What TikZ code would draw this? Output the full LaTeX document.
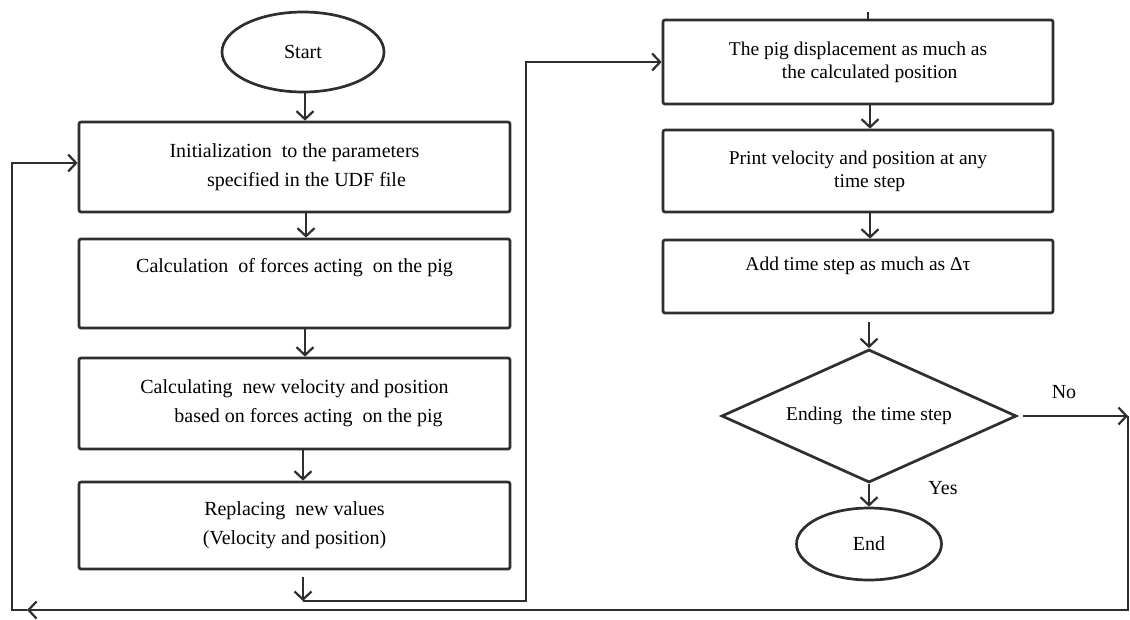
\documentclass[tikz,border=0pt]{standalone}
\usepackage{fontspec}
\setmainfont{Liberation Serif}
\usetikzlibrary{shapes.geometric,arrows.meta}
\begin{document}
\begin{tikzpicture}[x=1pt,y=-1pt,
  line/.style={draw=black!82, line width=2.7pt},
  proc/.style={line, rounded corners=2pt, align=center, inner sep=0pt,
    font=\fontsize{20}{29}\selectfont},
  rproc/.style={proc, font=\fontsize{19.5}{23}\selectfont},
  term/.style={line, ellipse, inner sep=0pt, font=\fontsize{20}{24}\selectfont},
  flow/.style={line, -{Straight Barb[length=8pt,width=17pt,line width=2.2pt]}},
  lbl/.style={font=\fontsize{20}{24}\selectfont, inner sep=0pt},
]
\useasboundingbox (0,0) rectangle (1130,619);

% left column
\node[term, minimum width=162, minimum height=80] (start) at (303,52) {Start};
\node[proc, minimum width=431, minimum height=90] (b1) at (294.5,167)
  {Initialization\ \ to the parameters\\ \hspace*{1.2em}specified in the UDF file};
\node[proc, minimum width=431, minimum height=89] (b2) at (294.5,283.5)
  {Calculation\ \ of forces acting\ \ on the pig\\[-2pt]\strut};
\node[proc, minimum width=431, minimum height=91] (b3) at (294.5,403.5)
  {Calculating\ \ new velocity and position\\ \hspace*{1.4em}based on forces acting\ \ on the pig};
\node[proc, minimum width=431, minimum height=87] (b4) at (294.5,525.5)
  {Replacing\ \ new values\\ (Velocity and position)};

% right column
\node[rproc, minimum width=390, minimum height=84] (r1) at (858,62)
  {The pig displacement as much as\\ \hspace*{1.2em}the calculated position};
\node[rproc, minimum width=390, minimum height=82] (r2) at (858,171)
  {Print velocity and position at any\\ \hspace*{1.2em}time step};
\node[rproc, minimum width=390, minimum height=73] (r3) at (858,276.5)
  {Add time step as much as Δτ\\[-4pt]\strut};
\node[line, diamond, aspect=2.22, minimum width=295, minimum height=133, inner sep=0pt,
  font=\fontsize{19.5}{24}\selectfont] (dec) at (869,416) {Ending\ \ the time step};
\node[term, minimum width=145, minimum height=72] (end) at (869,544) {End};

\node[lbl] (yes) at (943,488) {Yes};
\node[lbl] (no) at (1064,392) {No};

% connectors left
\draw[flow] (start.south -| 305,0) -- (b1.north -| 305,0);
\draw[flow] (b1.south -| 306,0) -- (b2.north -| 306,0);
\draw[flow] (b2.south -| 305,0) -- (b3.north -| 305,0);
\draw[flow] (b3.south -| 303,0) -- (b4.north -| 303,0);
\coordinate (c0) at (303,577);
\coordinate (c1) at (303,601);
\coordinate (c2) at (526,601);
\draw[flow] (c0) -- (c1);
\draw[flow] (c1) -- (c2) |- (r1.west);

% connectors right
\draw[flow] (r1.south -| 870,0) -- (r2.north -| 870,0);
\draw[flow] (r2.south -| 870,0) -- (r3.north -| 870,0);
\coordinate (c6) at (869,322);
\draw[flow] (c6) -- (dec.north);
\draw[flow] (dec.south) -- (end.north);
\draw[line, line width=1.6pt] (r1.north -| 868,0) -- ++(0,-7);

% No loop
\coordinate (c3) at (1128,416);
\coordinate (c4) at (1128,610);
\coordinate (c5) at (27,610);
\coordinate (c7) at (12,610);
\draw[flow] ([xshift=5pt]dec.east) -- (c3);
\draw[flow] (c3) -- (c4) -- (c5);
\draw[flow] (c5) -- (c7) |- ([yshift=4pt]b1.west);
\end{tikzpicture}
\end{document}
